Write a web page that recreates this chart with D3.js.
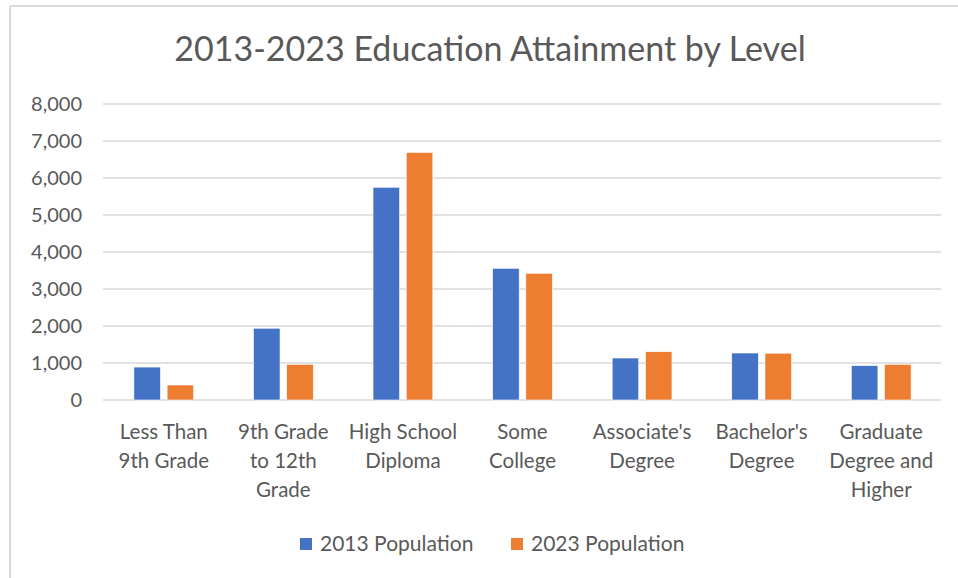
<!DOCTYPE html>
<html>
<head>
<meta charset="utf-8">
<script src="https://cdn.jsdelivr.net/npm/d3@7"></script>
<style>
  body { margin: 0; background: #fff; }
  svg text { font-family: Lato, "Noto Sans", sans-serif; fill: #595959; }
</style>
</head>
<body>
<svg id="chart" width="958" height="578"></svg>
<script>
// data
var categories = ["Less Than 9th Grade", "9th Grade to 12th Grade", "High School Diploma",
	"Some College", "Associate's Degree", "Bachelor's Degree", "Graduate Degree and Higher"];
var categoryLines = [
	["Less Than", "9th Grade"],
	["9th Grade", "to 12th", "Grade"],
	["High School", "Diploma"],
	["Some", "College"],
	["Associate's", "Degree"],
	["Bachelor's", "Degree"],
	["Graduate", "Degree and", "Higher"]
];
var seriesNames = ["2013 Population", "2023 Population"];
var pop2013 = [890, 1940, 5750, 3560, 1135, 1270, 930];
var pop2023 = [405, 965, 6690, 3425, 1305, 1265, 965];
var yTicks = [0, 1000, 2000, 3000, 4000, 5000, 6000, 7000, 8000];
var colors = ["#4472C4", "#ED7D31"];

(function(){
	var svg = d3.select("#chart");
	var plotLeft = 104, plotRight = 941, plotTop = 104, plotBottom = 400;

	// chart frame (only left and top edges show)
	svg.append("line").attr("x1", 10).attr("x2", 10).attr("y1", 6).attr("y2", 578)
		.attr("stroke", "#d9d9d9").attr("stroke-width", 2);
	svg.append("line").attr("x1", 10).attr("x2", 958).attr("y1", 6).attr("y2", 6)
		.attr("stroke", "#d9d9d9").attr("stroke-width", 2);

	var x0 = d3.scaleBand().domain(categories).range([plotLeft, plotRight]).paddingInner(0.5).paddingOuter(0.25);
	var x1 = d3.scaleBand().domain(seriesNames).range([0, x0.bandwidth()]).paddingInner(0.2);
	var y = d3.scaleLinear().domain([0, 8000]).range([plotBottom, plotTop]);

	// gridlines
	svg.append("g").selectAll("line").data(yTicks).enter().append("line")
		.attr("x1", plotLeft - 1).attr("x2", plotRight)
		.attr("y1", function(d){ return y(d); })
		.attr("y2", function(d){ return y(d); })
		.attr("stroke", "#d9d9d9").attr("stroke-width", 1.5);

	// y axis labels
	var yAxis = d3.axisLeft(y).tickValues(yTicks).tickSize(0).tickPadding(0)
		.tickFormat(d3.format(","));
	var yg = svg.append("g").attr("transform", "translate(82,0)").call(yAxis);
	yg.select(".domain").remove();
	yg.selectAll("text").style("font-size", "20px").style("font-family", "Lato, sans-serif").attr("fill", "#595959");

	// bars
	var rows = categories.map(function(c, i){
		return { cat: c, values: [pop2013[i], pop2023[i]] };
	});
	var groups = svg.append("g").selectAll("g").data(rows).enter().append("g")
		.attr("transform", function(d){ return "translate(" + x0(d.cat) + ",0)"; });
	groups.selectAll("rect").data(function(d){
			return d.values.map(function(v, j){ return { name: seriesNames[j], v: v, j: j }; });
		}).enter().append("rect")
		.attr("x", function(d){ return x1(d.name); })
		.attr("width", x1.bandwidth())
		.attr("y", function(d){ return y(d.v); })
		.attr("height", function(d){ return y(0) - y(d.v); })
		.attr("fill", function(d){ return colors[d.j]; })
		.attr("stroke", "#fff").attr("stroke-width", 0.6);

	// x labels
	var xl = svg.append("g").selectAll("text").data(categories).enter().append("text")
		.attr("text-anchor", "middle")
		.attr("x", function(d){ return x0(d) + x0.bandwidth() / 2; })
		.attr("y", 439)
		.style("font-size", "20.5px");
	xl.selectAll("tspan").data(function(d, i){ return categoryLines[i]; }).enter().append("tspan")
		.attr("x", function(){ return this.parentNode.getAttribute("x"); })
		.attr("dy", function(d, i){ return i === 0 ? 0 : 29; })
		.text(function(d){ return d; });

	// title
	svg.append("text").attr("x", 490).attr("y", 61).attr("text-anchor", "middle")
		.style("font-size", "34px").attr("fill", "#595959")
		.text("2013-2023 Education Attainment by Level");

	// legend
	var legendX = [300, 511];
	var lg = svg.append("g").selectAll("g").data(seriesNames).enter().append("g")
		.attr("transform", function(d, i){ return "translate(" + legendX[i] + ",538)"; });
	lg.append("rect").attr("width", 12).attr("height", 12)
		.attr("fill", function(d, i){ return colors[i]; });
	lg.append("text").attr("x", 20).attr("y", 13).style("font-size", "21px").text(function(d){ return d; });
})();
</script>
</body>
</html>
